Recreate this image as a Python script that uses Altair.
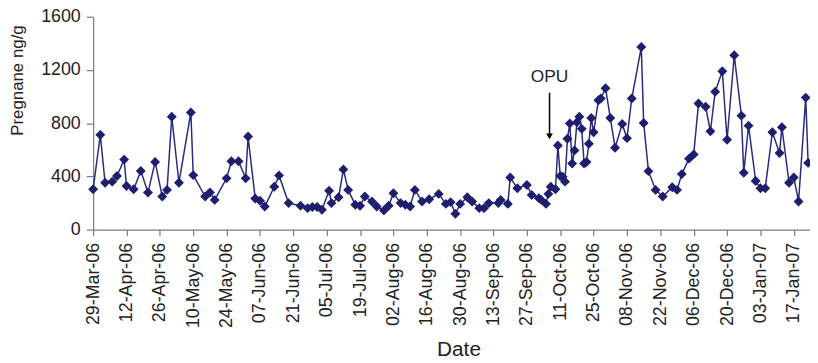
import altair as alt
import pandas as pd

# Sample dates (local time) and pregnane concentrations (ng/g)
dates = [
    "2006-03-29", "2006-04-01", "2006-04-03", "2006-04-06", "2006-04-08", "2006-04-11",
    "2006-04-12", "2006-04-15", "2006-04-18", "2006-04-21", "2006-04-24", "2006-04-27",
    "2006-04-29", "2006-05-01", "2006-05-04", "2006-05-09", "2006-05-10", "2006-05-15",
    "2006-05-17", "2006-05-19", "2006-05-24", "2006-05-26", "2006-05-29", "2006-06-01",
    "2006-06-02", "2006-06-05", "2006-06-07", "2006-06-09", "2006-06-13", "2006-06-15",
    "2006-06-19", "2006-06-24", "2006-06-27", "2006-06-29", "2006-07-01", "2006-07-03",
    "2006-07-06", "2006-07-07", "2006-07-10", "2006-07-12", "2006-07-14", "2006-07-17",
    "2006-07-19", "2006-07-21", "2006-07-24", "2006-07-26", "2006-07-29", "2006-07-31",
    "2006-08-02", "2006-08-05", "2006-08-07", "2006-08-09", "2006-08-11", "2006-08-14",
    "2006-08-17", "2006-08-21", "2006-08-24", "2006-08-26", "2006-08-28", "2006-08-30",
    "2006-09-02", "2006-09-04", "2006-09-07", "2006-09-09", "2006-09-11", "2006-09-15",
    "2006-09-16", "2006-09-19", "2006-09-20", "2006-09-23", "2006-09-27", "2006-09-29",
    "2006-10-02", "2006-10-03", "2006-10-05", "2006-10-06", "2006-10-07", "2006-10-09",
    "2006-10-10", "2006-10-11", "2006-10-12", "2006-10-13", "2006-10-14", "2006-10-15",
    "2006-10-16", "2006-10-17", "2006-10-18", "2006-10-19", "2006-10-20", "2006-10-21",
    "2006-10-22", "2006-10-23", "2006-10-24", "2006-10-25", "2006-10-27", "2006-10-28",
    "2006-10-30", "2006-11-01", "2006-11-03", "2006-11-06", "2006-11-08", "2006-11-10",
    "2006-11-14", "2006-11-15", "2006-11-17", "2006-11-20", "2006-11-23", "2006-11-27",
    "2006-11-29", "2006-12-01", "2006-12-04", "2006-12-06", "2006-12-08", "2006-12-11",
    "2006-12-13", "2006-12-15", "2006-12-18", "2006-12-20", "2006-12-23", "2006-12-26",
    "2006-12-27", "2006-12-29", "2007-01-01", "2007-01-03", "2007-01-05", "2007-01-08",
    "2007-01-11", "2007-01-12", "2007-01-15", "2007-01-17", "2007-01-19", "2007-01-22",
    "2007-01-23",
]
values = [
    303, 712, 352, 360, 402, 526,
    327, 303, 441, 278, 508, 248,
    298, 848, 352, 880, 409, 248,
    278, 223, 385, 513, 513, 385,
    699, 233, 216, 173, 322, 407,
    199, 179, 161, 169, 169, 149,
    292, 199, 243, 452, 298, 186,
    179, 248, 211, 173, 144, 179,
    273, 199, 186, 173, 298, 211,
    228, 268, 193, 206, 119, 193,
    243, 211, 161, 161, 199, 199,
    223, 193, 392, 310, 335, 260,
    236, 223, 193, 268, 322, 303,
    632, 402, 397, 360, 682, 798,
    496, 595, 806, 848, 757, 496,
    508, 645, 839, 731, 972, 985,
    1062, 839, 615, 794, 687, 985,
    1372, 801, 439, 298, 248, 318,
    298, 417, 533, 565, 947, 923,
    739, 1036, 1190, 675, 1310, 856,
    427, 781, 365, 310, 310, 731,
    575, 769, 352, 392, 211, 992,
    501,
]

# Axis ticks
x_ticks = [
    (2006, 3, 29), (2006, 4, 12), (2006, 4, 26), (2006, 5, 10), (2006, 5, 24),
    (2006, 6, 7), (2006, 6, 21), (2006, 7, 5), (2006, 7, 19), (2006, 8, 2),
    (2006, 8, 16), (2006, 8, 30), (2006, 9, 13), (2006, 9, 27), (2006, 10, 11),
    (2006, 10, 25), (2006, 11, 8), (2006, 11, 22), (2006, 12, 6), (2006, 12, 20),
    (2007, 1, 3), (2007, 1, 17),
]
y_ticks = [0, 400, 800, 1200, 1600]

# OPU annotation
opu_date = ["2006-10-06T12:00:00"]
opu_text_value = [1111]
opu_arrow_top = [1029]
opu_arrow_bottom = [712]
opu_head_value = [700]

df = pd.DataFrame({"date": [d + "T00:00:00" for d in dates], "value": values})
arrow_df = pd.DataFrame({"date": opu_date, "value": opu_arrow_top, "value2": opu_arrow_bottom})
head_df = pd.DataFrame({"date": opu_date, "value": opu_head_value})
text_df = pd.DataFrame({"date": opu_date, "value": opu_text_value, "label": ["OPU"]})

FONT = "Liberation Sans"
LINE = "#2a2a80"
MARK = "#1e1e6e"
AX = "#7a7a7a"

x_scale = alt.Scale(domain=[alt.DateTime(year=2006, month=3, date=29),
                            alt.DateTime(year=2007, month=1, date=23, hours=19)])
y_scale = alt.Scale(domain=[0, 1600], nice=False, zero=True)

x_axis = alt.Axis(
    values=[alt.DateTime(year=y, month=m, date=d) for (y, m, d) in x_ticks],
    format="%d-%b-%y", labelAngle=270, labelFont=FONT, labelFontSize=18,
    labelColor="#222222", labelPadding=7, labelFlush=False, labelOverlap=False,
    labelBound=False,
    tickSize=6, tickColor=AX, domainColor=AX, domainWidth=1.2, tickWidth=1.2,
    grid=False, title="Date", titleFont=FONT, titleFontSize=21,
    titleFontWeight="normal", titleColor="#222222",
    titleX=369, titleY=127, titleBaseline="alphabetic", titleAlign="center",
)
y_axis = alt.Axis(
    values=y_ticks, format="d", labelFont=FONT, labelFontSize=18, labelColor="#222222",
    labelPadding=6, tickSize=7, tickColor=AX, domainColor=AX, domainWidth=1.2,
    tickWidth=1.2, grid=False, title="Pregnane ng/g", titleFont=FONT,
    titleFontSize=17, titleFontWeight="normal", titleColor="#222222",
    titleX=-76, titleY=64, titleAngle=270, titleAlign="center",
    titleBaseline="middle", labelOverlap=False,
)

X = alt.X("date:T", scale=x_scale, axis=x_axis)
Y = alt.Y("value:Q", scale=y_scale, axis=y_axis)

base = alt.Chart(df).encode(x=X, y=Y)
line = base.mark_line(color=LINE, strokeWidth=1.5)
points = base.mark_point(shape="diamond", filled=True, size=100, color=MARK, opacity=1)

arrow = alt.Chart(arrow_df).mark_rule(color="black", strokeWidth=1.5).encode(
    x=X, y=Y, y2="value2:Q"
)
head = alt.Chart(head_df).mark_point(shape="triangle-down", filled=True, size=45,
                                     color="black", opacity=1).encode(x=X, y=Y)
label = alt.Chart(text_df).mark_text(font=FONT, fontSize=17.5, color="#222222",
                                     baseline="alphabetic", align="center").encode(
    x=X, y=Y, text="label:N"
)

chart = alt.layer(line, points, arrow, head, label).properties(
    width=724, height=215,
    padding={"left": 86, "top": 7, "right": 0, "bottom": 133},
    autosize=alt.AutoSizeParams(type="none"),
    background="white",
).configure_view(stroke=None).configure_axis(labelOverlap=False)

chart.save("out.html", embed_options={"renderer": "svg", "actions": False})
